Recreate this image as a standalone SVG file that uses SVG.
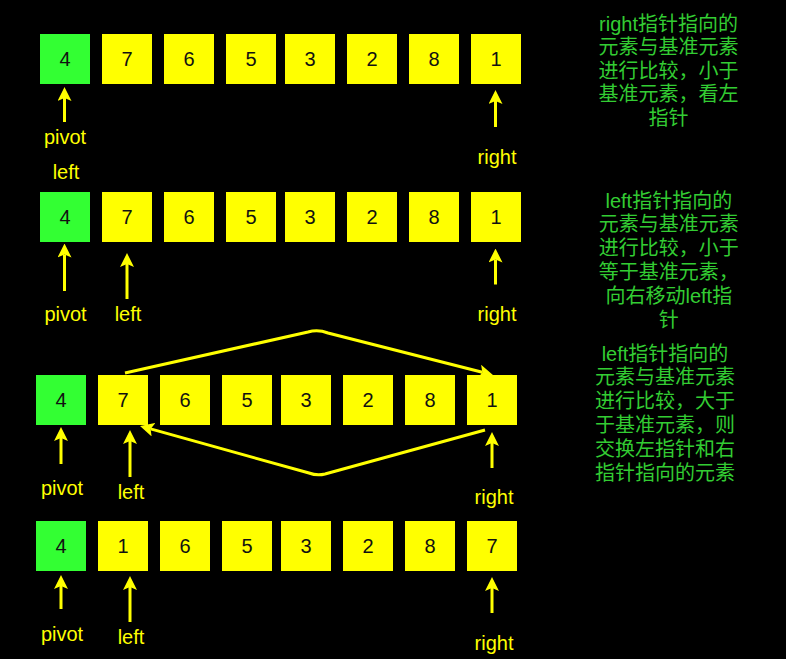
<svg xmlns="http://www.w3.org/2000/svg" width="786" height="659" viewBox="0 0 786 659">
<style>
.bg{fill:#000}
.y{fill:#ffff00}
.g{fill:#33ff33}
.num{font-family:"Liberation Sans",Arial,sans-serif;font-size:20px;fill:#111;text-anchor:middle}
.lbl{font-family:"Liberation Sans",Arial,sans-serif;font-size:20px;fill:#ffff00;text-anchor:middle}
.note{font-family:"Liberation Sans","Noto Sans CJK SC",sans-serif;font-size:20px;fill:#33cc33;text-anchor:middle}
.arr{stroke:#ffff00;stroke-width:3;fill:none}
</style>
<defs>
<marker id="ah" viewBox="0 0 14 14" refX="3" refY="7" markerWidth="14" markerHeight="14" markerUnits="userSpaceOnUse" orient="auto">
<path d="M0,0 L14,7 L0,14 L3,7 Z" fill="#ffff00"/>
</marker>
</defs>
<rect class="bg" x="0" y="0" width="786" height="659"/>

<g id="row1">
<rect class="g" x="40" y="34" width="50" height="50"/><text class="num" x="65" y="66">4</text>
<rect class="y" x="102" y="34" width="50" height="50"/><text class="num" x="127" y="66">7</text>
<rect class="y" x="164" y="34" width="50" height="50"/><text class="num" x="189" y="66">6</text>
<rect class="y" x="226" y="34" width="50" height="50"/><text class="num" x="251" y="66">5</text>
<rect class="y" x="285" y="34" width="50" height="50"/><text class="num" x="310" y="66">3</text>
<rect class="y" x="347" y="34" width="50" height="50"/><text class="num" x="372" y="66">2</text>
<rect class="y" x="409" y="34" width="50" height="50"/><text class="num" x="434" y="66">8</text>
<rect class="y" x="471" y="34" width="50" height="50"/><text class="num" x="496" y="66">1</text>
<text class="lbl" x="65" y="144">pivot</text>
<text class="lbl" x="66" y="179">left</text>
<text class="lbl" x="497" y="164">right</text>
</g>

<g id="row2">
<rect class="g" x="40" y="192" width="50" height="50"/><text class="num" x="65" y="224">4</text>
<rect class="y" x="102" y="192" width="50" height="50"/><text class="num" x="127" y="224">7</text>
<rect class="y" x="164" y="192" width="50" height="50"/><text class="num" x="189" y="224">6</text>
<rect class="y" x="226" y="192" width="50" height="50"/><text class="num" x="251" y="224">5</text>
<rect class="y" x="285" y="192" width="50" height="50"/><text class="num" x="310" y="224">3</text>
<rect class="y" x="347" y="192" width="50" height="50"/><text class="num" x="372" y="224">2</text>
<rect class="y" x="409" y="192" width="50" height="50"/><text class="num" x="434" y="224">8</text>
<rect class="y" x="471" y="192" width="50" height="50"/><text class="num" x="496" y="224">1</text>
<text class="lbl" x="65.5" y="321">pivot</text>
<text class="lbl" x="128" y="321">left</text>
<text class="lbl" x="497" y="321">right</text>
</g>

<g id="row3">
<rect class="g" x="36" y="375" width="50" height="50"/><text class="num" x="61" y="407">4</text>
<rect class="y" x="98" y="375" width="50" height="50"/><text class="num" x="123" y="407">7</text>
<rect class="y" x="160" y="375" width="50" height="50"/><text class="num" x="185" y="407">6</text>
<rect class="y" x="222" y="375" width="50" height="50"/><text class="num" x="247" y="407">5</text>
<rect class="y" x="281" y="375" width="50" height="50"/><text class="num" x="306" y="407">3</text>
<rect class="y" x="343" y="375" width="50" height="50"/><text class="num" x="368" y="407">2</text>
<rect class="y" x="405" y="375" width="50" height="50"/><text class="num" x="430" y="407">8</text>
<rect class="y" x="467" y="375" width="50" height="50"/><text class="num" x="492" y="407">1</text>
<text class="lbl" x="62" y="495">pivot</text>
<text class="lbl" x="131" y="499">left</text>
<text class="lbl" x="494" y="504">right</text>
</g>

<g id="row4">
<rect class="g" x="36" y="521" width="50" height="50"/><text class="num" x="61" y="553">4</text>
<rect class="y" x="98" y="521" width="50" height="50"/><text class="num" x="123" y="553">1</text>
<rect class="y" x="160" y="521" width="50" height="50"/><text class="num" x="185" y="553">6</text>
<rect class="y" x="222" y="521" width="50" height="50"/><text class="num" x="247" y="553">5</text>
<rect class="y" x="281" y="521" width="50" height="50"/><text class="num" x="306" y="553">3</text>
<rect class="y" x="343" y="521" width="50" height="50"/><text class="num" x="368" y="553">2</text>
<rect class="y" x="405" y="521" width="50" height="50"/><text class="num" x="430" y="553">8</text>
<rect class="y" x="467" y="521" width="50" height="50"/><text class="num" x="492" y="553">7</text>
<text class="lbl" x="62" y="641">pivot</text>
<text class="lbl" x="131" y="644">left</text>
<text class="lbl" x="494" y="650">right</text>
</g>

<g id="notes">
<text class="note" y="30.5"><tspan x="668.5">right指针指向的</tspan><tspan x="668.5" dy="23.6">元素与基准元素</tspan><tspan x="668.5" dy="23.6">进行比较，小于</tspan><tspan x="668.5" dy="23.6">基准元素，看左</tspan><tspan x="668.5" dy="23.6">指针</tspan></text>
<text class="note" y="207.5"><tspan x="668.8">left指针指向的</tspan><tspan x="668.8" dy="23.8">元素与基准元素</tspan><tspan x="668.8" dy="23.8">进行比较，小于</tspan><tspan x="668.8" dy="23.8">等于基准元素，</tspan><tspan x="668.8" dy="23.8">向右移动left指</tspan><tspan x="668.8" dy="23.8">针</tspan></text>
<text class="note" y="360.5"><tspan x="665">left指针指向的</tspan><tspan x="665" dy="23.9">元素与基准元素</tspan><tspan x="665" dy="23.9">进行比较，大于</tspan><tspan x="665" dy="23.9">于基准元素，则</tspan><tspan x="665" dy="23.9">交换左指针和右</tspan><tspan x="665" dy="23.9">指针指向的元素</tspan></text>
</g>

<g id="connectors">
<line class="arr" x1="64.5" y1="122" x2="64.5" y2="98" marker-end="url(#ah)"/>
<line class="arr" x1="495.5" y1="127" x2="495.5" y2="101" marker-end="url(#ah)"/>
<line class="arr" x1="64.5" y1="291" x2="64.5" y2="254.5" marker-end="url(#ah)"/>
<line class="arr" x1="127" y1="299" x2="127" y2="264" marker-end="url(#ah)"/>
<line class="arr" x1="495.5" y1="284.5" x2="495.5" y2="259.5" marker-end="url(#ah)"/>
<line class="arr" x1="61" y1="464" x2="61" y2="438" marker-end="url(#ah)"/>
<line class="arr" x1="130" y1="477" x2="130" y2="441" marker-end="url(#ah)"/>
<line class="arr" x1="492" y1="468" x2="492" y2="443" marker-end="url(#ah)"/>
<line class="arr" x1="61" y1="609" x2="61" y2="586" marker-end="url(#ah)"/>
<line class="arr" x1="130" y1="622" x2="130" y2="587" marker-end="url(#ah)"/>
<line class="arr" x1="492" y1="613" x2="492" y2="588" marker-end="url(#ah)"/>
<path class="arr" d="M125,373 L308,332 Q318,329 328,333 L482.3,372.3" marker-end="url(#ah)"/>
<path class="arr" d="M485,430 L325,474 Q317,476 309,473 L150.6,428.9" marker-end="url(#ah)"/>
</g>
</svg>
